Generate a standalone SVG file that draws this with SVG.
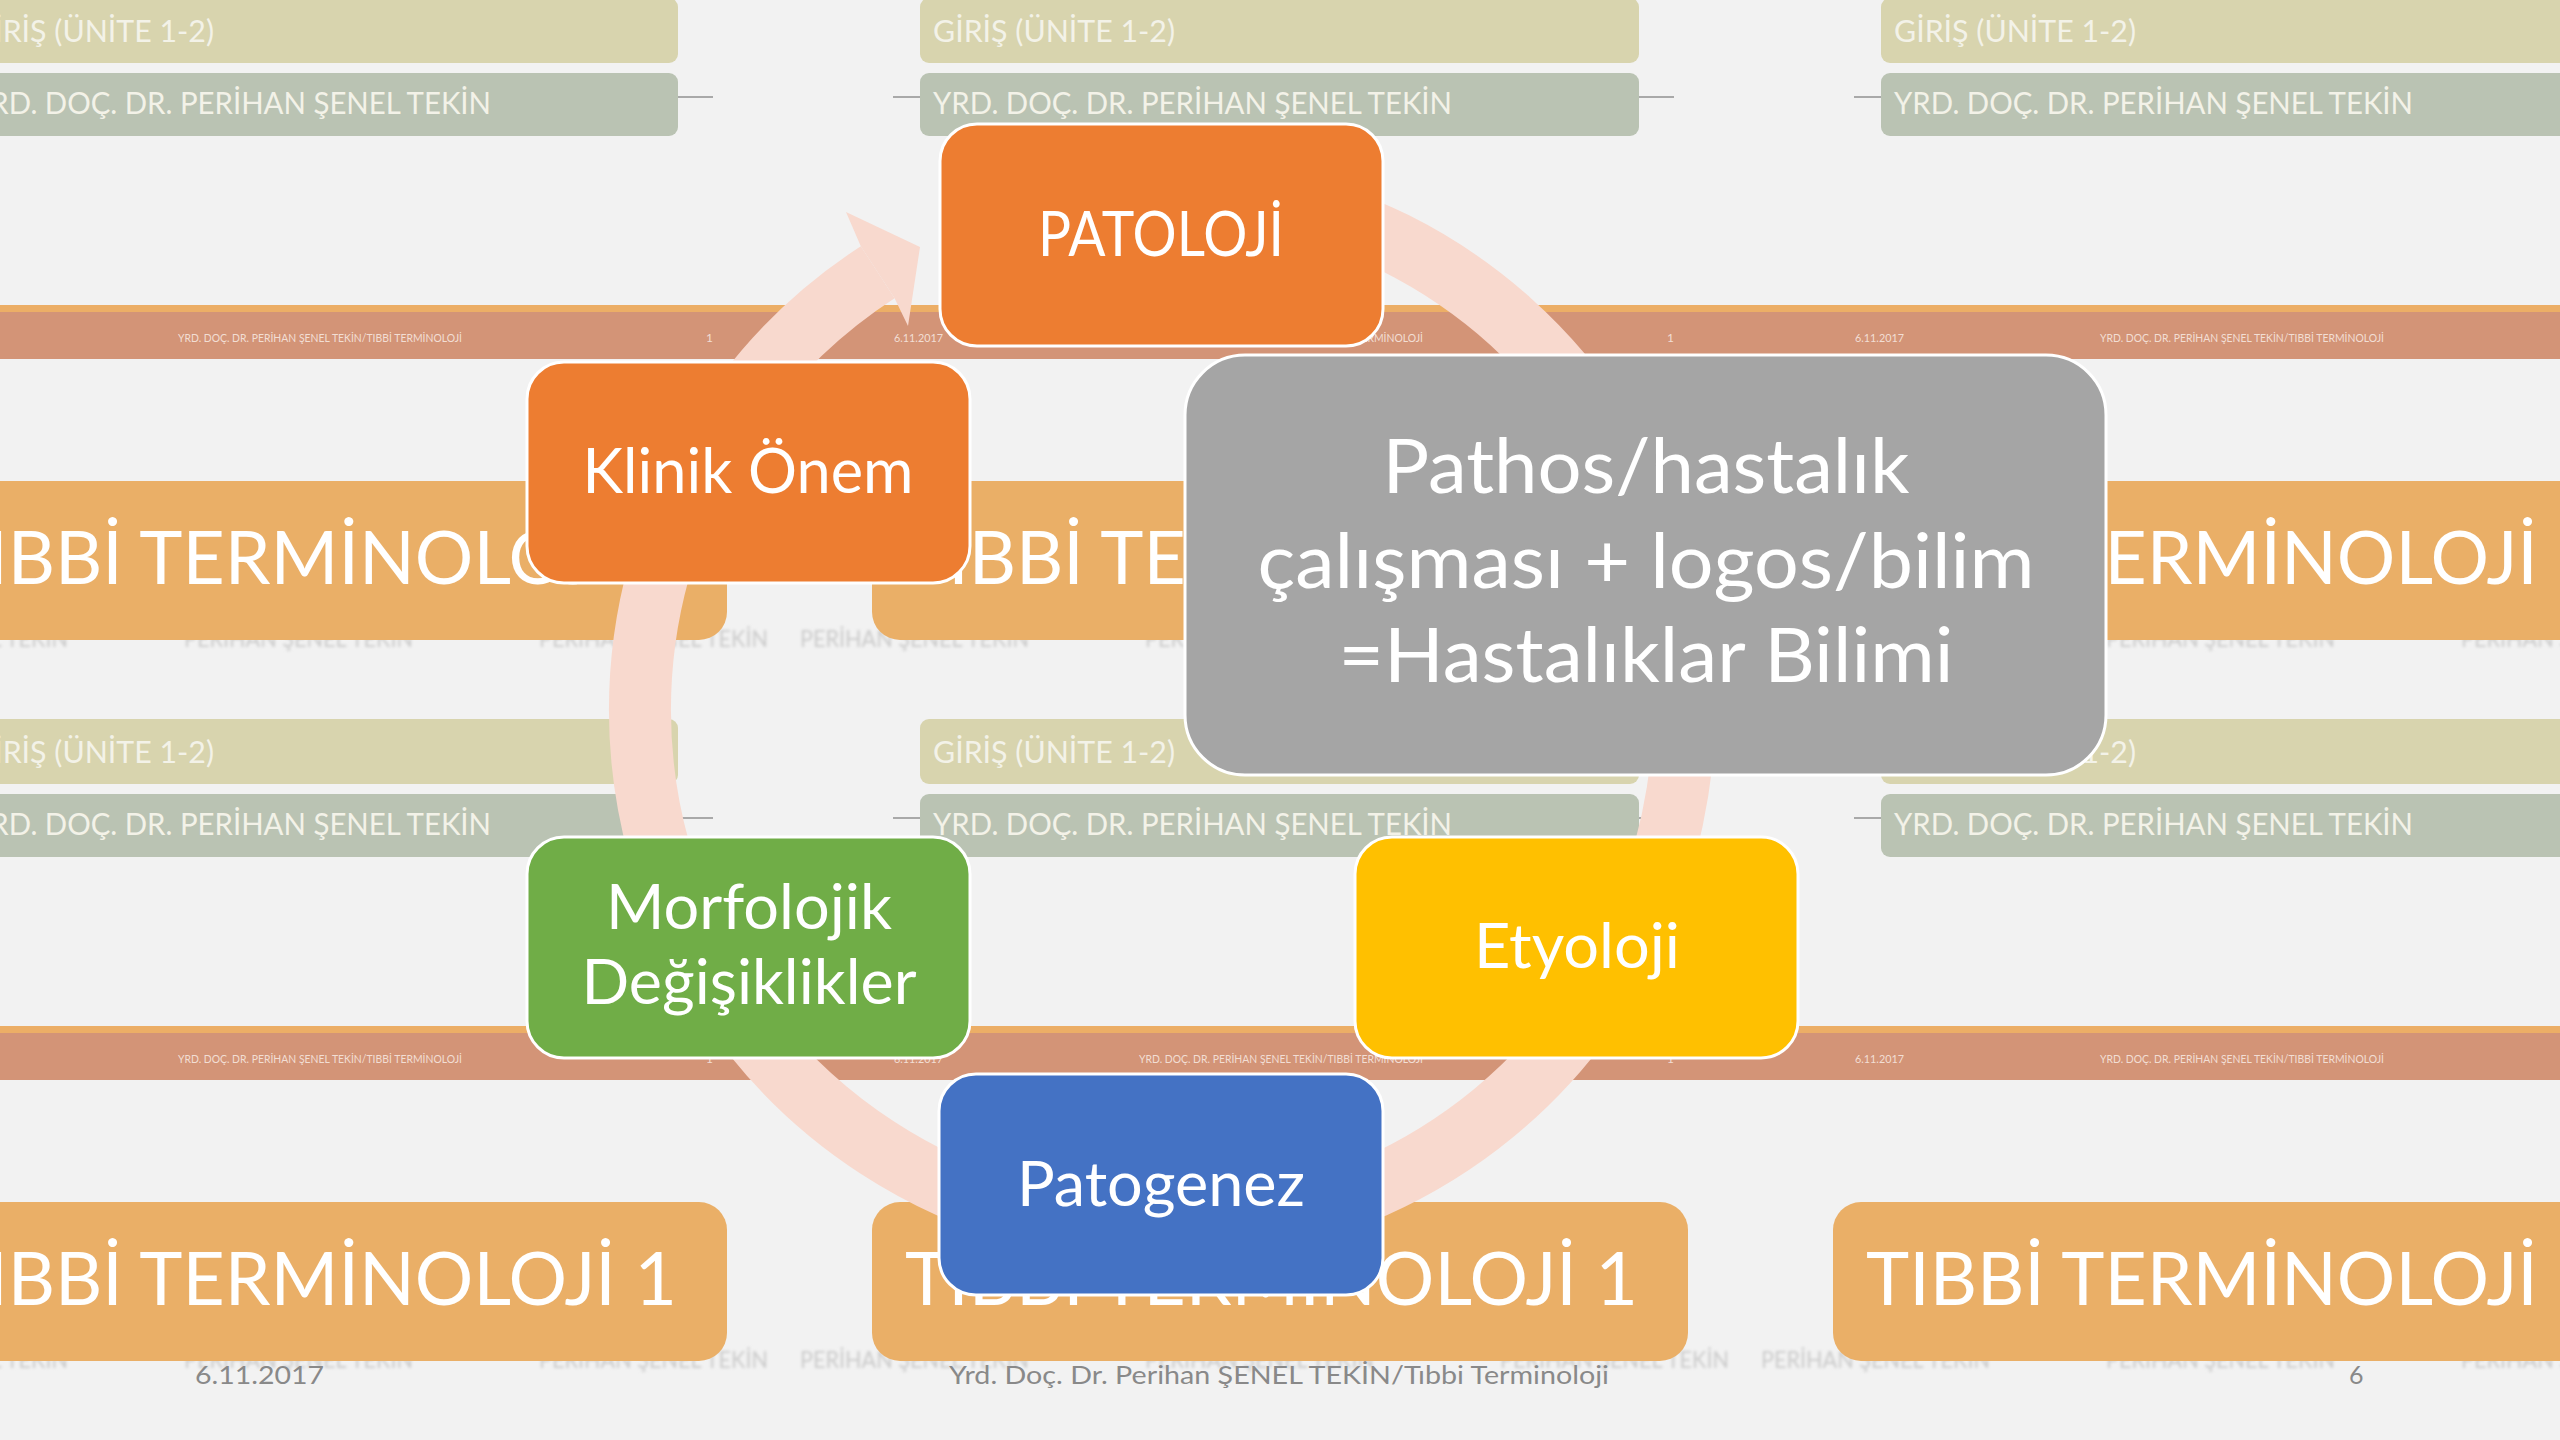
<svg xmlns="http://www.w3.org/2000/svg" xmlns:xlink="http://www.w3.org/1999/xlink" width="2560" height="1440" viewBox="0 0 2560 1440">
<style>
.giris{fill:#D8D4AE}
.yrd{fill:#BAC3B3}
.gt{font-family:Lato,"Open Sans",sans-serif;font-size:30px;fill:#F3F2E8}
.tl{stroke:#A9A9A9;stroke-width:2;fill:none}
.st{font-family:Lato,"Open Sans",sans-serif;font-size:12px;fill:#F2DED4}
.gh{font-family:Lato,"Open Sans",sans-serif;font-size:24px;fill:#CACACA}
.tb{fill:#EAAF67}
.tt{font-family:Lato,"Open Sans",sans-serif;font-size:74px;fill:#FFFFFF}
.node rect{stroke:#FFFFFF;stroke-width:3}
.nt{font-family:Lato,"Open Sans",sans-serif;font-size:62px;fill:#FFFFFF;text-anchor:middle}
.ct{font-family:Lato,"Open Sans",sans-serif;font-size:75px;fill:#FFFFFF;text-anchor:middle}
.ft{font-family:Lato,"Open Sans",sans-serif;font-size:25px;fill:#898989}
.ring{fill:none;stroke:#F8D9CE;stroke-width:62}
.head{fill:#F8D9CE}
</style>
<defs>
<filter id="blur" x="-5%" y="-50%" width="110%" height="200%"><feGaussianBlur stdDeviation="1.4"/></filter>
<g id="tile">
<rect class="giris" x="0" y="-2" width="719" height="65" rx="9"/>
<text class="gt" x="13" y="42" textLength="242" lengthAdjust="spacingAndGlyphs">GİRİŞ (ÜNİTE 1-2)</text>
<rect class="yrd" x="0" y="73" width="719" height="63" rx="9"/>
<text class="gt" x="13" y="114" textLength="519" lengthAdjust="spacingAndGlyphs">YRD. DOÇ. DR. PERİHAN ŞENEL TEKİN</text>
<path class="tl" d="M-27 97H0M719 97H754"/>
<text class="st" x="-26" y="342" textLength="49" lengthAdjust="spacingAndGlyphs">6.11.2017</text>
<text class="st" x="219" y="342" textLength="284" lengthAdjust="spacingAndGlyphs">YRD. DOÇ. DR. PERİHAN ŞENEL TEKİN/TIBBİ TERMİNOLOJİ</text>
<text class="st" x="747" y="342">1</text>
<g filter="url(#blur)">
<text class="gh" x="-120" y="647" textLength="229" lengthAdjust="spacingAndGlyphs">PERİHAN ŞENEL TEKİN</text>
<text class="gh" x="225" y="647" textLength="229" lengthAdjust="spacingAndGlyphs">PERİHAN ŞENEL TEKİN</text>
<text class="gh" x="580" y="647" textLength="229" lengthAdjust="spacingAndGlyphs">PERİHAN ŞENEL TEKİN</text>
</g>
<rect class="tb" x="-48" y="481" width="816" height="159" rx="28"/>
<text class="tt" x="-15" y="584" textLength="733" lengthAdjust="spacingAndGlyphs">TIBBİ TERMİNOLOJİ 1</text>
</g>
</defs>

<g id="background">
<rect x="0" y="0" width="2560" height="1440" fill="#F2F2F2"/>
<rect x="0" y="305" width="2560" height="8" fill="#ECAE66"/>
<rect x="0" y="312" width="2560" height="47" fill="#D39477"/>
<rect x="0" y="1026" width="2560" height="8" fill="#ECAE66"/>
<rect x="0" y="1033" width="2560" height="47" fill="#D39477"/>
<use href="#tile" xlink:href="#tile" x="-41" y="0"/>
<use href="#tile" xlink:href="#tile" x="920" y="0"/>
<use href="#tile" xlink:href="#tile" x="1881" y="0"/>
<use href="#tile" xlink:href="#tile" x="-41" y="721"/>
<use href="#tile" xlink:href="#tile" x="920" y="721"/>
<use href="#tile" xlink:href="#tile" x="1881" y="721"/>
</g>

<g id="connectors">
<path class="ring" d="M1026.9 205.8 A522 522 0 1 1 877.7 272.2"/>
<polygon class="head" points="860.8,246.2 846,212 920,247 908,326 894.6,298.2"/>
</g>

<g id="node-patoloji" class="node">
<rect x="940" y="124" width="443" height="222" rx="37" fill="#ED7D31"/>
<text class="nt" x="1161" y="256" textLength="246" lengthAdjust="spacingAndGlyphs">PATOLOJİ</text>
</g>
<g id="node-klinik" class="node">
<rect x="527" y="362" width="443" height="221" rx="37" fill="#ED7D31"/>
<text class="nt" x="748" y="493" textLength="331" lengthAdjust="spacingAndGlyphs">Klinik Önem</text>
</g>
<g id="node-morfolojik" class="node">
<rect x="527" y="837" width="443" height="221" rx="37" fill="#70AD47"/>
<text class="nt" x="749" y="929" textLength="286" lengthAdjust="spacingAndGlyphs">Morfolojik</text>
<text class="nt" x="749" y="1004" textLength="335" lengthAdjust="spacingAndGlyphs">Değişiklikler</text>
</g>
<g id="node-patogenez" class="node">
<rect x="939" y="1074" width="444" height="221" rx="37" fill="#4472C4"/>
<text class="nt" x="1161" y="1206" textLength="288" lengthAdjust="spacingAndGlyphs">Patogenez</text>
</g>
<g id="node-etyoloji" class="node">
<rect x="1355" y="837" width="443" height="221" rx="37" fill="#FFC000"/>
<text class="nt" x="1577" y="968" textLength="206" lengthAdjust="spacingAndGlyphs">Etyoloji</text>
</g>
<g id="node-center" class="node">
<rect x="1185" y="355" width="921" height="420" rx="60" fill="#A5A5A5"/>
<text class="ct" x="1646" y="493" textLength="527" lengthAdjust="spacingAndGlyphs">Pathos/hastalık</text>
<text class="ct" x="1646" y="588" textLength="777" lengthAdjust="spacingAndGlyphs">çalışması + logos/bilim</text>
<text class="ct" x="1646" y="682" textLength="615" lengthAdjust="spacingAndGlyphs">=Hastalıklar Bilimi</text>
</g>

<g id="footer">
<text class="ft" x="195" y="1384" textLength="129" lengthAdjust="spacingAndGlyphs">6.11.2017</text>
<text class="ft" x="949" y="1384" textLength="660" lengthAdjust="spacingAndGlyphs">Yrd. Doç. Dr. Perihan ŞENEL TEKİN/Tıbbi Terminoloji</text>
<text class="ft" x="2349" y="1384">6</text>
</g>
</svg>
